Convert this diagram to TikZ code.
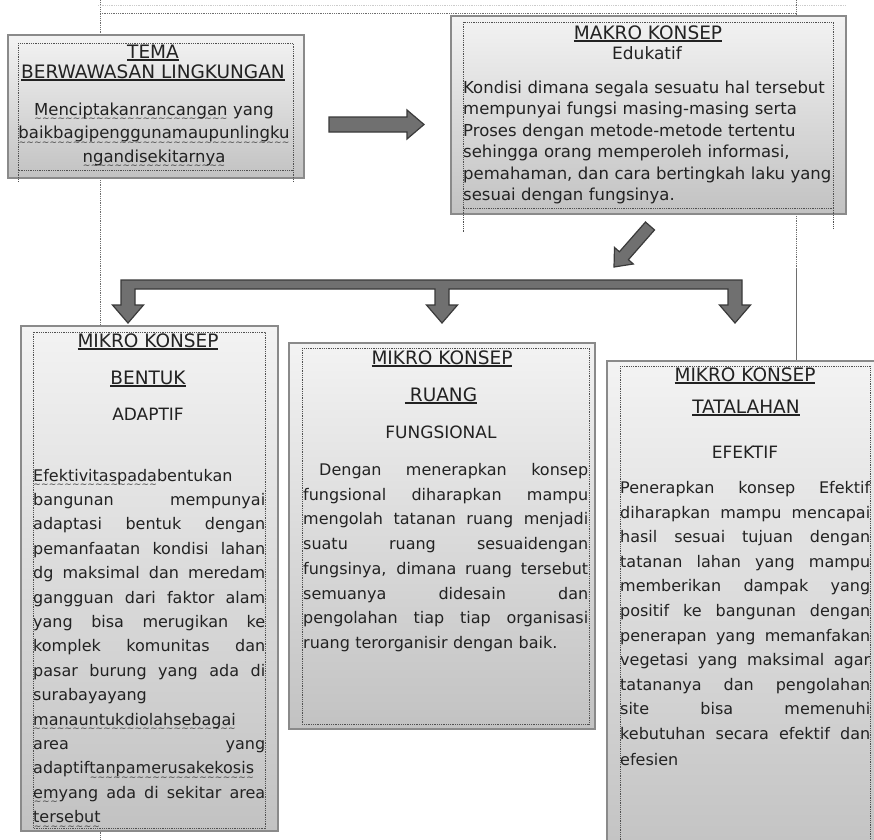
\documentclass[tikz,border=0pt]{standalone}
\usepackage{fontspec}
\setmainfont{DejaVu Sans}
\usetikzlibrary{calc}
\definecolor{txt}{HTML}{222222}
\definecolor{boxtop}{HTML}{F3F3F3}
\definecolor{boxbot}{HTML}{C2C2C2}
\definecolor{boxline}{HTML}{8A8A8A}
\definecolor{dotc}{HTML}{505050}
\definecolor{linec}{HTML}{6E6E6E}
\definecolor{arrfill}{HTML}{707070}
\definecolor{arrline}{HTML}{3A3A3A}
\def\jw{200pt}
\newcommand\jl[1]{\makebox[\jw][s]{\spaceskip=0.3em plus 1fil\relax #1}}
\newcommand\ulx[1]{\leavevmode\setbox0=\hbox{#1}\rlap{\rule[-3pt]{\wd0}{1.6pt}}\copy0\relax}
\newcommand\wv[1]{\leavevmode\setbox0=\hbox{#1}\rlap{\raisebox{-6.5pt}{\hbox to \wd0{{\color{black!75}\xleaders\hbox{\fontsize{9}{9}\selectfont\char"007E}\hfil}}}}\copy0\relax}
\newcommand\barrow[5]{%
  \coordinate (ba-h) at ($(#2)!#5!(#1)$);
  \filldraw[blockarrow] ($(#1)!#3!90:(#2)$) -- ($(ba-h)!#3!90:(#2)$) -- ($(ba-h)!#4!90:(#2)$)
    -- (#2) -- ($(ba-h)!#4!-90:(#2)$) -- ($(ba-h)!#3!-90:(#2)$) -- ($(#1)!#3!-90:(#2)$) -- cycle;}
\tikzset{
  panel/.style={draw=boxline, line width=1.6pt, top color=boxtop, bottom color=boxbot, inner sep=0pt, anchor=north west},
  dotframe/.style={draw=dotc, line width=0.9pt, dash pattern=on 0.9pt off 0.9pt},
  guide/.style={draw=linec, line width=0.8pt, dash pattern=on 0.9pt off 0.9pt},
  blockarrow/.style={fill=arrfill, draw=arrline, line width=1.2pt, line join=miter},
  ttl/.style={anchor=base, inner sep=0pt, text=txt, font=\fontsize{18.5}{21}\selectfont},
  sub/.style={anchor=base, inner sep=0pt, text=txt, font=\fontsize{17}{20}\selectfont},
  body/.style={anchor=base west, inner sep=0pt, text=txt, align=left},
}
\begin{document}
\begin{tikzpicture}[x=1pt,y=-1pt]
\fill[white] (0,0) rectangle (874,839);
\useasboundingbox (0,0) rectangle (874,839);
% guide lines
\coordinate (g1) at (100,0); \coordinate (g2) at (100,839);
\draw[guide] (g1) -- (g2);
\coordinate (g3) at (100,13); \coordinate (g4) at (796,13);
\draw[guide] (g3) -- (g4);
\coordinate (g8) at (98,5); \coordinate (g9) at (846,5);
\draw[guide, draw=linec!35] (g8) -- (g9);
\coordinate (g5) at (796,0); \coordinate (g6) at (796,268); \coordinate (g7) at (796,360);
\draw[guide] (g5) -- (g6);
\draw[draw=linec, line width=0.8pt] (g6) -- (g7);

% panels
\node[panel, minimum width=296pt, minimum height=143pt] (tema) at (7,34) {};
\node[panel, minimum width=395pt, minimum height=198pt] (makro) at (450,15) {};
\node[panel, minimum width=257pt, minimum height=505pt] (mk1) at (20,325) {};
\node[panel, minimum width=306pt, minimum height=386pt] (mk2) at (288,342) {};
\node[panel, minimum width=274pt, minimum height=500pt] (mk3) at (606,360) {};

% inner dotted frames
\draw[dotframe] (18,43) rectangle (293,170);
\draw[dotframe] (18,170) -- (18,181) (293,170) -- (293,181);
\draw[dotframe] (463,22) rectangle (833,208);
\draw[dotframe] (463,208) -- (463,233) (833,208) -- (833,228);
\draw[dotframe] (33,332) rectangle (265,828);
\draw[dotframe] (302,348) rectangle (589,724);
\draw[dotframe] (620,366) rectangle (870,850);

% TEMA
\node[ttl] (tema-t1) at (153,58) {\ulx{TEMA}};
\node[ttl] (tema-t2) at (153,78) {\ulx{BERWAWASAN LINGKUNGAN}};
\node[body, anchor=base, align=center, text width=292pt, font=\fontsize{16.5}{23.5}\selectfont] (tema-b) at (154,115)
 {\wv{Menciptakanrancangan} yang\\ \wv{baikbagipenggunamaupunlingku}\\ \wv{ngandisekitarnya}};

% MAKRO
\node[ttl] (mak-t1) at (648,39) {\ulx{MAKRO KONSEP}};
\node[sub] (mak-t2) at (647,59) {Edukatif};
\node[body, text width=380pt, font=\fontsize{16.5}{21.4}\selectfont] (mak-b) at (463,93.5)
 {Kondisi dimana segala sesuatu hal tersebut\\
  mempunyai fungsi masing-masing serta\\
  Proses dengan metode-metode tertentu\\
  sehingga orang memperoleh informasi,\\
  pemahaman, dan cara bertingkah laku yang\\
  sesuai dengan fungsinya.};

% MIKRO 1
\node[ttl] (m1-t1) at (148,347) {\ulx{MIKRO KONSEP}};
\node[ttl] (m1-t2) at (148,384) {\ulx{BENTUK}};
\node[sub] (m1-t3) at (148,420) {ADAPTIF};
\node[body, text width=232pt, font=\fontsize{16}{24.4}\selectfont] (m1-b) at (33,481)
 {\def\jw{232pt}\wv{Efektivitaspada}bentukan\\
  \jl{bangunan mempunyai}\\
  \jl{adaptasi bentuk dengan}\\
  \jl{pemanfaatan kondisi lahan}\\
  \jl{dg maksimal dan meredam}\\
  \jl{gangguan dari faktor alam}\\
  \jl{yang bisa merugikan ke}\\
  \jl{komplek komunitas dan}\\
  \jl{pasar burung yang ada di}\\
  surabayayang\\
  \wv{manauntukdiolahsebagai}\\
  \jl{area yang}\\
  adaptif\wv{tanpamerusakekosis}\\
  \jl{\wv{em}yang ada di sekitar area}\\
  \wv{tersebut}};

% MIKRO 2
\node[ttl] (m2-t1) at (442,364) {\ulx{MIKRO KONSEP}};
\node[ttl] (m2-t2) at (441,401) {\ulx{\hspace*{5pt}RUANG}};
\node[sub] (m2-t3) at (441,438) {FUNGSIONAL};
\node[body, text width=285pt, font=\fontsize{16}{24.7}\selectfont] (m2-b) at (303,475.5)
 {\def\jw{285pt}\jl{\hspace*{16pt}Dengan menerapkan konsep}\\
  \jl{fungsional diharapkan mampu}\\
  \jl{mengolah tatanan ruang menjadi}\\
  \jl{suatu ruang sesuaidengan}\\
  \jl{fungsinya, dimana ruang tersebut}\\
  \jl{semuanya didesain dan}\\
  \jl{pengolahan tiap tiap organisasi}\\
  ruang terorganisir dengan baik.};

% MIKRO 3
\node[ttl] (m3-t1) at (745,381) {\ulx{MIKRO KONSEP}};
\node[ttl] (m3-t2) at (746,413) {\ulx{TATALAHAN}};
\node[sub] (m3-t3) at (745,458) {EFEKTIF};
\node[body, text width=250pt, font=\fontsize{16}{24.6}\selectfont] (m3-b) at (620,493.5)
 {\def\jw{250pt}\jl{Penerapkan konsep Efektif}\\
  \jl{diharapkan mampu mencapai}\\
  \jl{hasil sesuai tujuan dengan}\\
  \jl{tatanan lahan yang mampu}\\
  \jl{memberikan dampak yang}\\
  \jl{positif ke bangunan dengan}\\
  \jl{penerapan yang memanfakan}\\
  \jl{vegetasi yang maksimal agar}\\
  \jl{tatananya dan pengolahan}\\
  \jl{site bisa memenuhi}\\
  \jl{kebutuhan secara efektif dan}\\[1pt]
  efesien};

% block arrows
\coordinate (a1s) at (329,124.5); \coordinate (a1e) at (424,124.5);
\barrow{a1s}{a1e}{7.5pt}{14.5pt}{17pt}
\coordinate (a2s) at (650,226); \coordinate (a2e) at (614,267);
\barrow{a2s}{a2e}{6pt}{12.5pt}{15pt}
% distribution bar with three down arrows
\filldraw[blockarrow] (121,280) -- (742,280) -- (742,305) -- (750.5,305) -- (735,323) -- (719.5,305) -- (728,305)
  -- (728,289) -- (449,289) -- (449,305) -- (457.5,305) -- (442,323) -- (426.5,305) -- (435,305)
  -- (435,289) -- (135,289) -- (135,305) -- (143.5,305) -- (128,323) -- (112.5,305) -- (121,305) -- cycle;
\end{tikzpicture}
\end{document}
